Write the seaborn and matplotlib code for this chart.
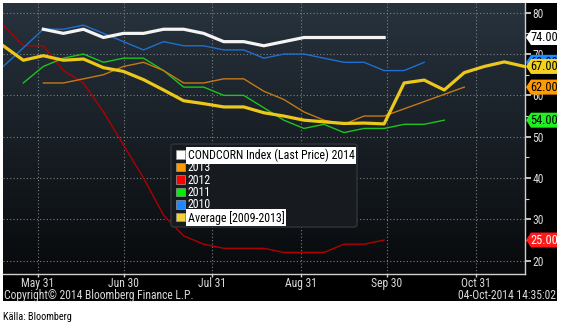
import numpy as np
import pandas as pd
import matplotlib
matplotlib.use("Agg")
import matplotlib.pyplot as plt
from matplotlib import font_manager as fm
from matplotlib.patches import Rectangle, FancyBboxPatch, Polygon
import seaborn as sns

# ---- data: weekly crop condition (% good/excellent), Mondays 2014-05-19 .. 2014-11-17
weeks = pd.date_range("2014-05-19", periods=27, freq="7D")
nan = np.nan

cond_2014 = [nan, nan, 76, 75, 76, 74, 75, 75, 76, 76, 75, 73, 73, 72, 73, 74, 74, 74, 74, 74,
             nan, nan, nan, nan, nan, nan, nan]
cond_2013 = [nan, nan, 63, 63, 64, 65, 67, 68, 66, 63, 63, 64, 64, 61, 59, 56, 54, 53, 55, 55,
             nan, nan, nan, 62, nan, nan, nan]
cond_2012 = [77, 72, 72, 66, 63, 56, 48, 40, 31, 26, 24, 23, 23, 23, 22, 22, 22, 24, 24, 25,
             nan, nan, nan, nan, nan, nan, nan]
cond_2011 = [nan, 63, 67, 69, 70, 68, 69, 69, 66, 62, 62, 60, 60, 57, 54, 52, 53, 51, 52, 52,
             53, 53, 54, nan, nan, nan, nan]
cond_2010 = [67, nan, 76, 76, 77, 75, 73, 71, 73, 72, 72, 71, 71, 69, 70, 70, 69, 68, 68, 66,
             66, 68, nan, nan, nan, nan, nan]
cond_avg = [72.0, 68.5, 69.6, 68.5, 68.8, 66.7, 65.8, 63.8, 61.3, 58.7, 58.0, 57.2, 57.2, 55.8,
            55.0, 54.0, 53.6, 53.2, 53.3, 53.1, 63.0, 63.7, 61.3, 65.5, 67.0, 68.1, 67.0]

series_names = ["CONDCORN Index (Last Price) 2014", "2013", "2012", "2011", "2010",
                "Average [2009-2013]"]
series_values = [cond_2014, cond_2013, cond_2012, cond_2011, cond_2010, cond_avg]
line_colors = ["#f4f4f4", "#c47a14", "#b00000", "#1cc41c", "#1f6fd0", "#ecc81a"]
swatch_colors = ["#ffffff", "#ff9a00", "#ff0000", "#00ee00", "#1e88ff", "#f2d23a"]
tag_colors = ["#ffffff", "#ff9a00", "#ff1a1a", "#22ee22", "#1e88ff", "#f2d21e"]
tag_text_colors = ["black", "black", "white", "black", "black", "black"]
line_widths = [2.3, 1.0, 1.0, 1.0, 1.0, 2.3]
draw_order = [2, 4, 3, 1, 5, 0]

month_ticks = pd.to_datetime(["2014-05-31", "2014-06-30", "2014-07-31", "2014-08-31",
                              "2014-09-30", "2014-10-31"])
month_labels = ["May 31", "Jun 30", "Jul 31", "Aug 31", "Sep 30", "Oct 31"]
y_major = [20, 30, 40, 50, 60, 70, 80]
y_minor = [25, 35, 45, 55, 65, 75]

# ---- fonts: prefer a narrow sans for the terminal-style labels
names = {f.name for f in fm.fontManager.ttflist}
NARROW, FS = "Liberation Sans", 7.0
for cand in ["Liberation Sans Narrow", "Arial Narrow", "Roboto Condensed",
             "Open Sans Condensed", "Noto Sans Condensed"]:
    if cand in names:
        NARROW, FS = cand, 8.0
        break
TXT = "#dadada"

W, H = 562, 329
fig = plt.figure(figsize=(W / 100, H / 100), dpi=100)
fig.patch.set_facecolor("white")


def fx(px):
    return px / W


def fy(py):
    return (H - py) / H


# black terminal panel
fig.patches.append(Rectangle((fx(3), fy(301)), fx(554), 298 / H, transform=fig.transFigure,
                             facecolor="black", edgecolor="none", zorder=-5))

pos = [fx(3), fy(274), fx(522), 271 / H]

# gradient backdrop of the plotting area
bg = fig.add_axes(pos, zorder=-1)
grad = np.linspace(0, 1, 256)[:, None]
top = np.array([40, 51, 62]) / 255
bot = np.array([8, 10, 12]) / 255
img = top[None, None, :] * (1 - grad[..., None]) + bot[None, None, :] * grad[..., None]
img = np.repeat(img, 2, axis=1)
bg.imshow(img, aspect="auto", extent=[0, 1, 0, 1])
bg.set_axis_off()

ax = fig.add_axes(pos, zorder=1)
ax.patch.set_visible(False)

x0, x1 = pd.Timestamp("2014-05-18 22:00"), pd.Timestamp("2014-11-17 05:00")
y0, y1 = 16.78, 82.35

for i in draw_order:
    df = pd.DataFrame({"week": weeks, "value": series_values[i]}).dropna()
    sns.lineplot(data=df, x="week", y="value", ax=ax, color=line_colors[i],
                 linewidth=line_widths[i], zorder=3 + draw_order.index(i), estimator=None)

ax.set_xlim(x0, x1)
ax.set_ylim(y0, y1)
ax.set_xlabel("")
ax.set_ylabel("")

ax.set_xticks(month_ticks)
ax.set_xticklabels(month_labels)
ax.set_yticks(y_major)
ax.set_yticks(y_minor, minor=True)
ax.set_yticklabels([str(v) for v in y_major])
ax.yaxis.tick_right()

ax.grid(True, which="major", color="#7a7f86", linestyle=(0, (1, 2)), linewidth=0.8, zorder=1)
ax.tick_params(axis="x", colors="#cfcfcf", labelcolor=TXT, length=2.5, width=1, pad=-0.5,
               labelsize=FS + 0.4)
ax.tick_params(axis="y", which="major", colors="#e0e0e0", labelcolor=TXT, length=4, width=1.2,
               pad=1.5, labelsize=FS + 0.4)
ax.tick_params(axis="y", which="minor", colors="#cfcfcf", length=3, width=0.8)
for lab in ax.get_xticklabels() + ax.get_yticklabels():
    lab.set_fontfamily(NARROW)

for side in ("top", "left"):
    ax.spines[side].set_visible(False)
for side in ("right", "bottom"):
    ax.spines[side].set_color("#d0d0d0")
    ax.spines[side].set_linewidth(1.0)

# value tags on the right axis
ax_w_px = 522.0
px_per_unit = 271.0 / (y1 - y0)
yt = ax.get_yaxis_transform()
half_h = 7.5 / px_per_unit
tag_order = [4, 0, 5, 1, 3, 2]
for i in tag_order:
    vals = [v for v in series_values[i] if not np.isnan(v)]
    last = vals[-1]
    tip = 1 + 1.0 / ax_w_px
    sh = 1 + 6.0 / ax_w_px
    right = 1 + 32.0 / ax_w_px
    poly = Polygon([(tip, last), (sh, last + half_h), (right, last + half_h),
                    (right, last - half_h), (sh, last - half_h)], closed=True,
                   transform=yt, facecolor=tag_colors[i], edgecolor="none", clip_on=False,
                   zorder=10 + tag_order.index(i))
    ax.add_patch(poly)
    ax.text(1 + 19.0 / ax_w_px, last, f"{last:.2f}", transform=yt, ha="center", va="center",
            fontsize=FS + 0.9, family=NARROW, color=tag_text_colors[i], clip_on=False,
            zorder=10 + tag_order.index(i))

# legend panel
fig.patches.append(FancyBboxPatch((fx(171), fy(227)), fx(186), 83 / H,
                                  boxstyle="round,pad=0,rounding_size=0.006",
                                  transform=fig.transFigure, facecolor="#171b20",
                                  edgecolor="#2e343b", linewidth=1.0, zorder=20))
row_y = [154.7, 167.0, 179.4, 191.8, 204.2, 216.8]
for k, name in enumerate(series_names):
    fig.patches.append(Rectangle((fx(176), fy(row_y[k] + 4.3)), fx(8.6), 8.6 / H,
                                 transform=fig.transFigure, facecolor=swatch_colors[k],
                                 edgecolor="#9a9a9a", linewidth=0.5, zorder=21))
    boxed = k in (0, 5)
    fig.text(fx(187.5), fy(row_y[k] + 0.8), name, ha="left", va="center", fontsize=FS + 0.6,
             family=NARROW, color="black" if boxed else "white", zorder=22,
             bbox=dict(boxstyle="square,pad=0.15", facecolor="white", edgecolor="none")
             if boxed else None)

# footer texts
fig.text(fx(4), fy(295.5), "Copyright\u00a9 2014 Bloomberg Finance L.P.", ha="left",
         va="center", fontsize=FS + 0.4, family=NARROW, color=TXT, zorder=5)
fig.text(fx(556), fy(295.5), "04-Oct-2014 14:35:02", ha="right", va="center",
         fontsize=FS + 0.4, family=NARROW, color=TXT, zorder=5)
fig.text(fx(3), fy(317), "Källa: Bloomberg", ha="left", va="center", fontsize=FS - 0.6,
         family=NARROW, color="black")

fig.savefig("out.png", dpi=100, facecolor="white")
